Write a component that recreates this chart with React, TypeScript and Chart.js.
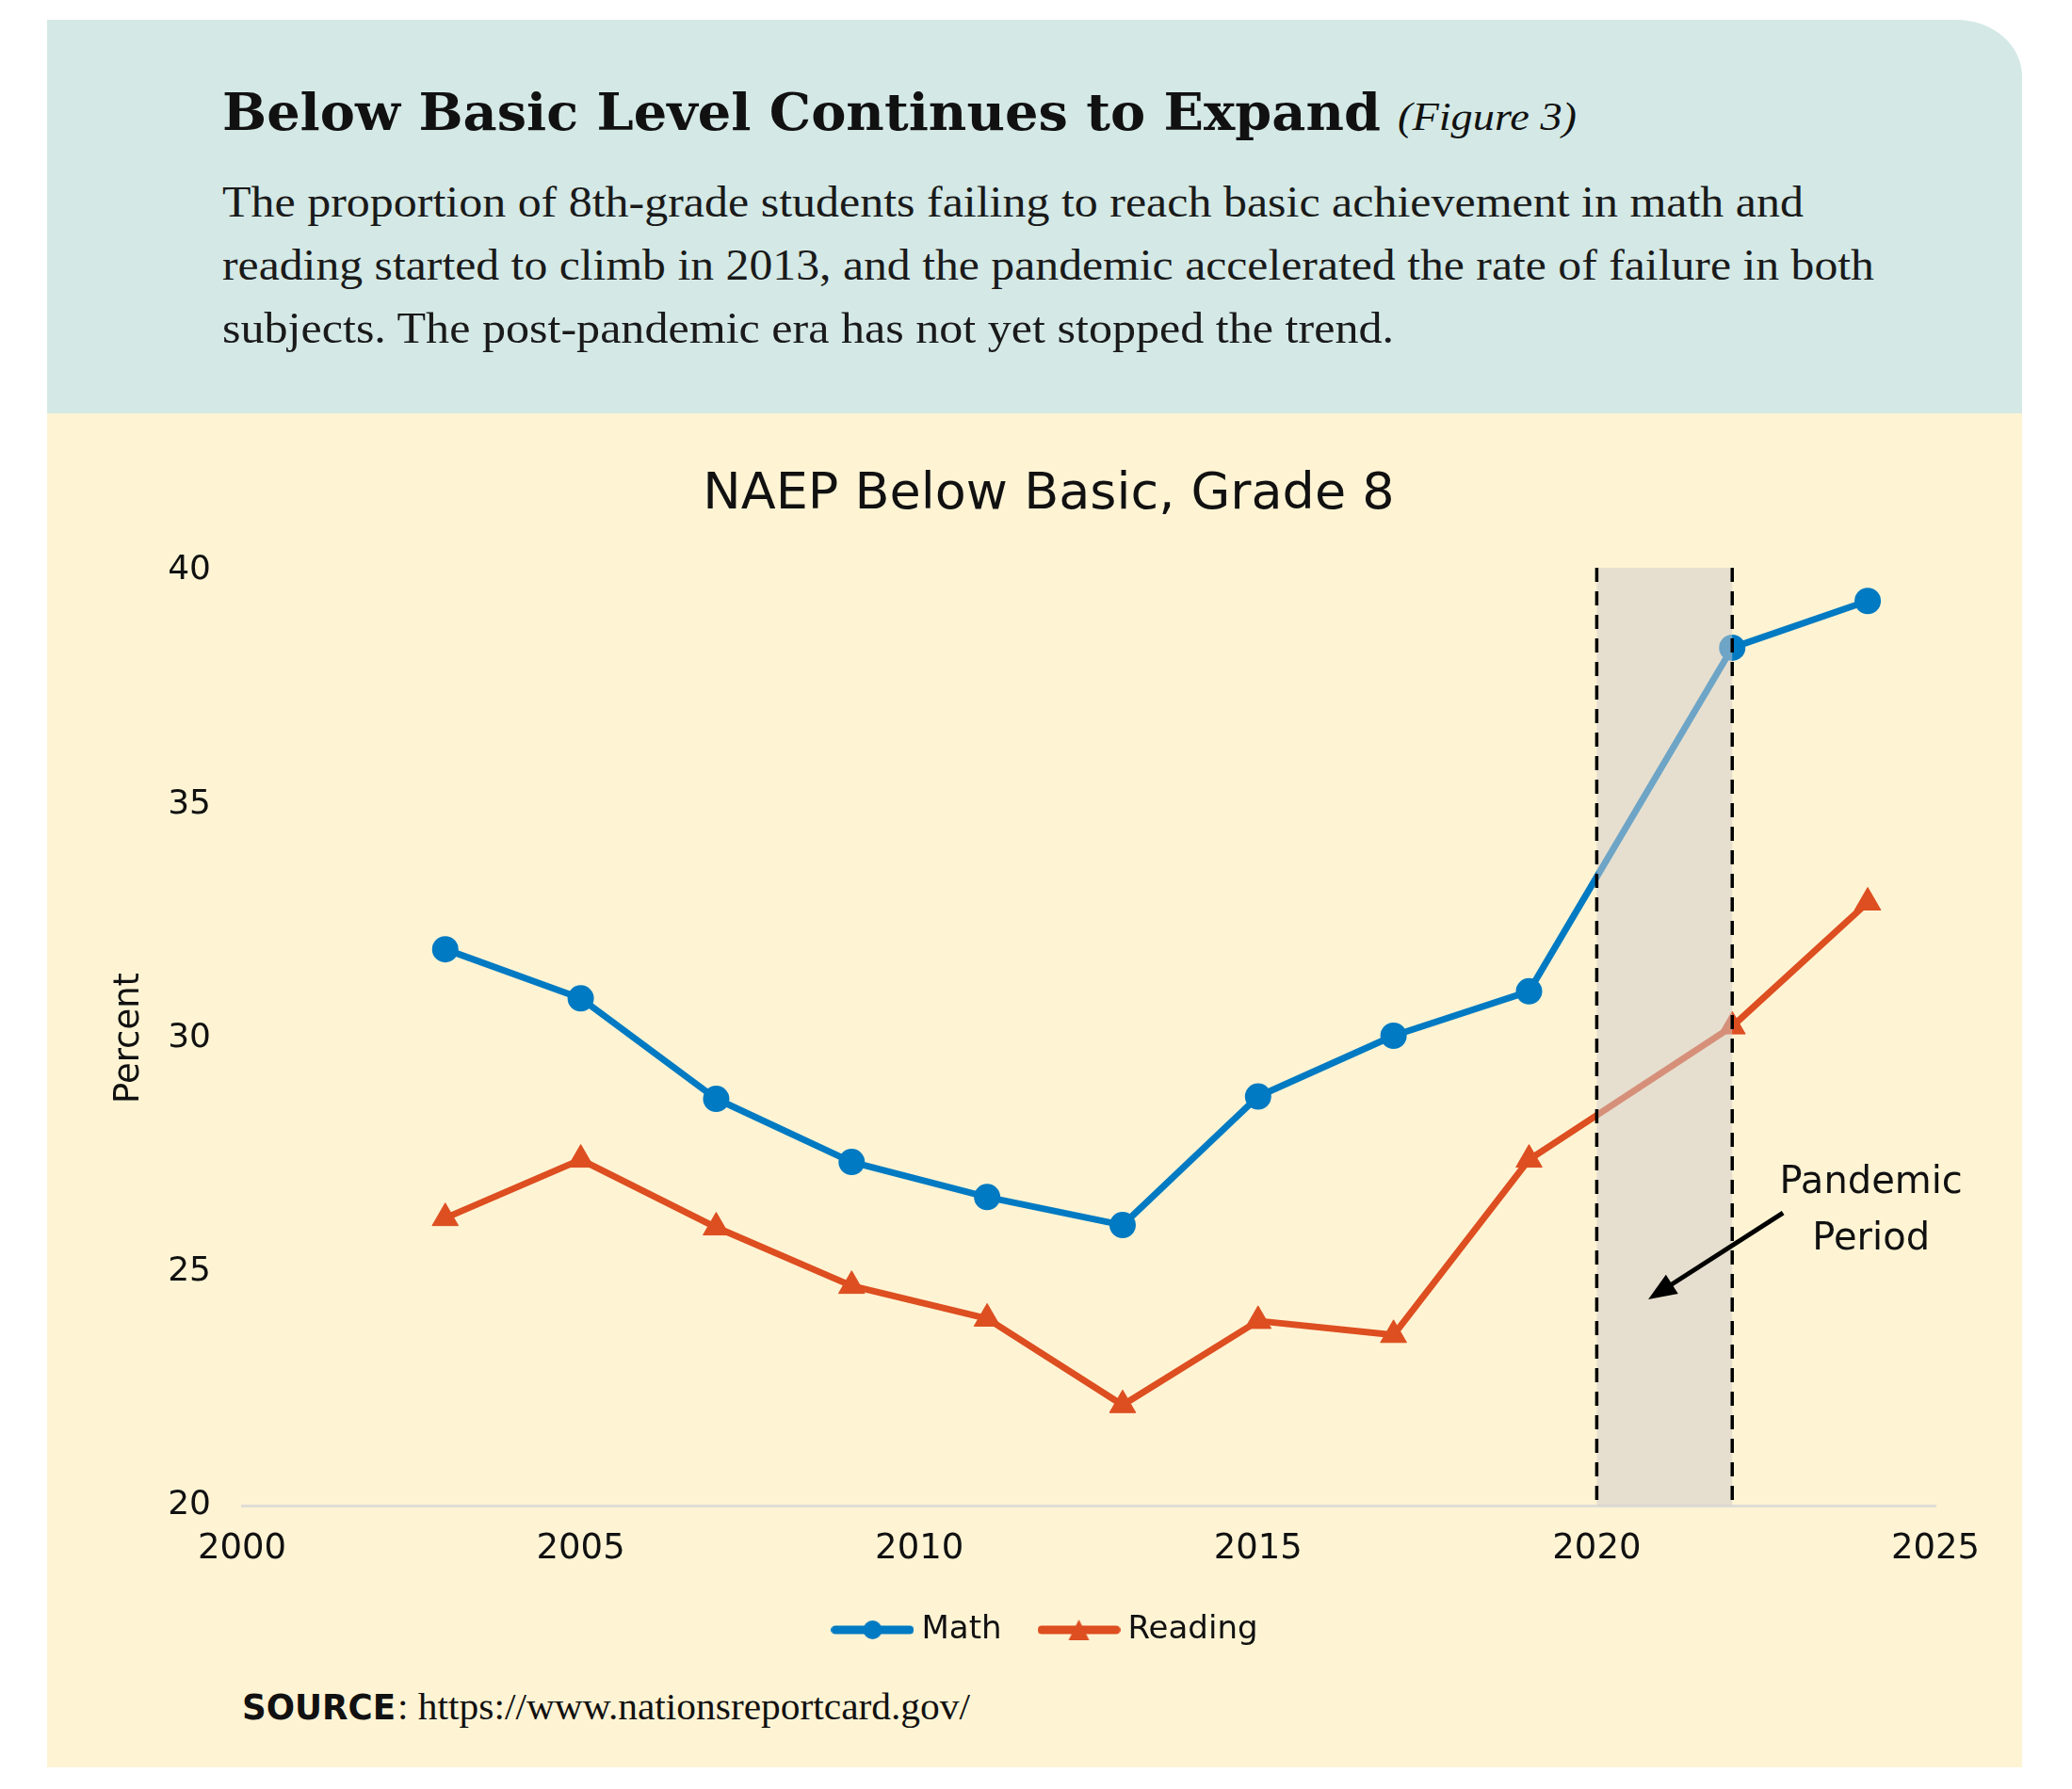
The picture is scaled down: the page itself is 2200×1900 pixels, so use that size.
import React, { useEffect, useLayoutEffect, useRef } from 'react';
import { Chart, registerables } from 'chart.js';

Chart.register(...registerables);

// ---------- data ----------
const YEARS = [2003, 2005, 2007, 2009, 2011, 2013, 2015, 2017, 2019, 2022, 2024];
const MATH = [31.9, 30.85, 28.7, 27.35, 26.6, 26.0, 28.75, 30.05, 31.0, 38.35, 39.35];
const READING = [26.15, 27.4, 25.95, 24.7, 24.0, 22.15, 23.95, 23.65, 27.4, 30.25, 32.9];
const X_TICKS = [2000, 2005, 2010, 2015, 2020, 2025];
const Y_TICKS = [20, 25, 30, 35, 40];
const PANDEMIC_RANGE = [2020, 2022];
const SERIES_NAMES = ['Math', 'Reading'];
const CHART_TITLE = 'NAEP Below Basic, Grade 8';
const Y_TITLE = 'Percent';
const ANNOTATION_LINES = ['Pandemic', 'Period'];
// annotation anchor points in data units
const ANNOTATION_TEXT_AT = { x: 2024.05, y: [26.69, 25.48] };
const ARROW_FROM = { x: 2022.75, y: 26.26 };
const ARROW_TO = { x: 2020.76, y: 24.41 };

const HEADLINE = 'Below Basic Level Continues to Expand';
const FIGURE_TAG = '(Figure 3)';
const BODY_LINES = [
  'The proportion of 8th-grade students failing to reach basic achievement in math and',
  'reading started to climb in 2013, and the pandemic accelerated the rate of failure in both',
  'subjects. The post-pandemic era has not yet stopped the trend.',
];
const SOURCE_LABEL = 'SOURCE';
const SOURCE_URL = ': https://www.nationsreportcard.gov/';

// ---------- style ----------
const BLUE = '#007ac2';
const RED = '#dd4e20';
const TEAL = '#d4e9e6';
const YELLOW = '#fef4d4';
const INK = '#111111';
const SANS = '"DejaVu Sans", "Noto Sans", sans-serif';
const SERIF = '"Liberation Serif", "DejaVu Serif", serif';
const BOLD_SERIF = '"DejaVu Serif", serif';

type FitProps = {
  x: number; baseline: number; width: number; size: number; family: string;
  weight?: string | number; italic?: boolean; color?: string; k: number; children: React.ReactNode;
};

function FitText({ x, baseline, width, size, family, weight = 'normal', italic = false, color = INK, k, children }: FitProps) {
  const ref = useRef<HTMLDivElement>(null);
  useLayoutEffect(() => {
    const el = ref.current;
    if (!el) return;
    el.style.transform = 'none';
    const w = el.getBoundingClientRect().width;
    if (w > 0) el.style.transform = `scaleX(${width / w})`;
  });
  return (
    <div
      ref={ref}
      style={{
        position: 'absolute', left: x, top: baseline - k * size, fontSize: size,
        lineHeight: `${size}px`, fontFamily: family, fontWeight: weight as any,
        fontStyle: italic ? 'italic' : 'normal', color, whiteSpace: 'nowrap',
        transformOrigin: '0 0', display: 'inline-block',
      }}
    >
      {children}
    </div>
  );
}

function legendImage(color: string, kind: 'circle' | 'triangle') {
  const c = document.createElement('canvas');
  c.width = 88; c.height = 26;
  const g = c.getContext('2d')!;
  g.strokeStyle = color; g.lineWidth = 9; g.lineCap = 'round';
  g.beginPath(); g.moveTo(4.5, 13); g.lineTo(83.5, 13); g.stroke();
  g.fillStyle = color;
  g.beginPath();
  if (kind === 'circle') {
    g.arc(44, 13, 10, 0, Math.PI * 2);
  } else {
    g.moveTo(44, 2); g.lineTo(55, 24); g.lineTo(33, 24); g.closePath();
  }
  g.fill();
  return c;
}

const pandemicPlugin = {
  id: 'pandemicBand',
  afterDatasetsDraw(chart: any) {
    const { ctx, chartArea, scales } = chart;
    const x = scales.x, y = scales.y;
    const x0 = x.getPixelForValue(PANDEMIC_RANGE[0]);
    const x1 = x.getPixelForValue(PANDEMIC_RANGE[1]);
    const top = chartArea.top - 3, bottom = chartArea.bottom;
    ctx.save();
    ctx.fillStyle = 'rgba(207,204,202,0.53)';
    ctx.fillRect(x0, top, x1 - x0, bottom - top);
    ctx.strokeStyle = '#000';
    ctx.lineWidth = 3.5;
    ctx.setLineDash([15, 10]);
    for (const xx of [x0, x1]) {
      ctx.beginPath(); ctx.moveTo(xx, top); ctx.lineTo(xx, bottom); ctx.stroke();
    }
    ctx.setLineDash([]);
    // arrow
    const ax0 = x.getPixelForValue(ARROW_FROM.x), ay0 = y.getPixelForValue(ARROW_FROM.y);
    const ax1 = x.getPixelForValue(ARROW_TO.x), ay1 = y.getPixelForValue(ARROW_TO.y);
    const ang = Math.atan2(ay1 - ay0, ax1 - ax0);
    const headLen = 30, headHalf = 12;
    const bx = ax1 - Math.cos(ang) * headLen, by = ay1 - Math.sin(ang) * headLen;
    ctx.strokeStyle = '#000'; ctx.lineWidth = 5;
    ctx.beginPath(); ctx.moveTo(ax0, ay0); ctx.lineTo(bx + Math.cos(ang) * 4, by + Math.sin(ang) * 4); ctx.stroke();
    ctx.fillStyle = '#000';
    ctx.beginPath();
    ctx.moveTo(ax1, ay1);
    ctx.lineTo(bx - Math.sin(ang) * headHalf, by + Math.cos(ang) * headHalf);
    ctx.lineTo(bx + Math.sin(ang) * headHalf, by - Math.cos(ang) * headHalf);
    ctx.closePath(); ctx.fill();
    // text
    ctx.fillStyle = INK;
    ctx.font = `40px ${SANS}`;
    ctx.textAlign = 'center';
    ctx.textBaseline = 'alphabetic';
    const tx = x.getPixelForValue(ANNOTATION_TEXT_AT.x);
    ANNOTATION_LINES.forEach((line, i) => {
      ctx.fillText(line, tx, y.getPixelForValue(ANNOTATION_TEXT_AT.y[i]));
    });
    ctx.restore();
  },
};

function NaepChart() {
  const ref = useRef<HTMLCanvasElement>(null);
  useEffect(() => {
    if (!ref.current) return;
    const imgs = [legendImage(BLUE, 'circle'), legendImage(RED, 'triangle')];
    const chart = new Chart(ref.current, {
      type: 'line',
      data: {
        datasets: [
          {
            label: SERIES_NAMES[0],
            data: YEARS.map((yr, i) => ({ x: yr, y: MATH[i] })),
            borderColor: BLUE, backgroundColor: BLUE, borderWidth: 7,
            borderJoinStyle: 'round',
            pointStyle: 'circle', pointRadius: 13, pointBorderWidth: 2,
            pointBackgroundColor: BLUE, pointBorderColor: BLUE, tension: 0, clip: false,
          } as any,
          {
            label: SERIES_NAMES[1],
            data: YEARS.map((yr, i) => ({ x: yr, y: READING[i] })),
            borderColor: RED, backgroundColor: RED, borderWidth: 7,
            borderJoinStyle: 'round',
            pointStyle: 'triangle', pointRadius: 16, pointBorderWidth: 1,
            pointBackgroundColor: RED, pointBorderColor: RED, tension: 0, clip: false,
          } as any,
        ],
      },
      options: {
        responsive: false,
        animation: false,
        events: [],
        layout: { padding: { top: 0, left: 0, right: 0, bottom: 21 } },
        plugins: {
          title: {
            display: true, text: CHART_TITLE, color: INK,
            font: { family: SANS, size: 54, weight: 'normal' as any },
            padding: { top: 54.3, bottom: 47.9 },
          },
          legend: {
            display: true, position: 'bottom', align: 'center',
            labels: {
              usePointStyle: true, pointStyleWidth: 70, padding: 47,
              font: { family: SANS, size: 34 }, color: INK,
              generateLabels: (ch: any) => ch.data.datasets.map((ds: any, i: number) => ({
                text: ds.label, pointStyle: imgs[i], fillStyle: ds.borderColor,
                strokeStyle: ds.borderColor, lineWidth: 0, hidden: false,
                datasetIndex: i, fontColor: INK,
              })),
            },
          },
          tooltip: { enabled: false },
        },
        scales: {
          x: {
            type: 'linear', min: X_TICKS[0], max: X_TICKS[X_TICKS.length - 1],
            afterBuildTicks: (s: any) => { s.ticks = X_TICKS.map((v) => ({ value: v })); },
            ticks: {
              callback: (v: any) => String(v), color: INK,
              font: { family: SANS, size: 37 }, padding: 24, maxRotation: 0, autoSkip: false,
            },
            grid: { display: false, drawTicks: false },
            border: { display: true, color: '#dfddd6', width: 3 },
            afterFit: (s: any) => { s.height = 68; },
          },
          y: {
            type: 'linear', min: Y_TICKS[0], max: Y_TICKS[Y_TICKS.length - 1],
            afterBuildTicks: (s: any) => { s.ticks = Y_TICKS.map((v) => ({ value: v })); },
            ticks: {
              callback: (v: any) => String(v), color: INK,
              font: { family: SANS, size: 36 }, padding: 33,
            },
            grid: { display: false, drawTicks: false },
            border: { display: false },
            title: {
              display: true, text: Y_TITLE, color: INK,
              font: { family: SANS, size: 37 }, padding: { top: 64.8, bottom: 0 },
            },
            afterFit: (s: any) => { s.width = 207; },
          },
          yRight: {
            type: 'linear', position: 'right', min: 0, max: 1, display: true,
            ticks: { display: false },
            grid: { display: false, drawTicks: false },
            border: { display: false },
            afterFit: (s: any) => { s.width = 122; },
          },
        },
      } as any,
      plugins: [pandemicPlugin],
    });
    return () => chart.destroy();
  }, []);
  return (
    <canvas
      ref={ref}
      width={2127}
      height={1340}
      style={{ position: 'absolute', left: 50, top: 439, width: 2127, height: 1340 }}
    />
  );
}

export default function App() {
  const kSerif = 0.8375;
  const kDejaVu = 0.846;
  return (
    <div style={{ position: 'absolute', left: 0, top: 0, width: 2200, height: 1900, background: '#fff', overflow: 'hidden' }}>
      <div style={{ position: 'absolute', left: 50, top: 21, width: 2097, height: 418, background: TEAL, borderTopRightRadius: '70px 60px' }} />
      <div style={{ position: 'absolute', left: 50, top: 439, width: 2097, height: 1438, background: YELLOW }} />
      <FitText x={236} baseline={138} width={1230} size={55} family={BOLD_SERIF} weight="bold" k={kDejaVu}>{HEADLINE}</FitText>
      <FitText x={1484} baseline={138} width={190} size={42} family={SERIF} italic k={kSerif}>{FIGURE_TAG}</FitText>
      <FitText x={236} baseline={231} width={1679} size={46} family={SERIF} k={kSerif} color="#1a1a1a">{BODY_LINES[0]}</FitText>
      <FitText x={236} baseline={298} width={1754} size={46} family={SERIF} k={kSerif} color="#1a1a1a">{BODY_LINES[1]}</FitText>
      <FitText x={236} baseline={365} width={1244} size={46} family={SERIF} k={kSerif} color="#1a1a1a">{BODY_LINES[2]}</FitText>
      <NaepChart />
      <FitText x={257} baseline={1826} width={163} size={38} family={SANS} weight="bold" k={kDejaVu}>{SOURCE_LABEL}</FitText>
      <FitText x={422} baseline={1826} width={608} size={40} family={SERIF} k={kSerif}>{SOURCE_URL}</FitText>
    </div>
  );
}
